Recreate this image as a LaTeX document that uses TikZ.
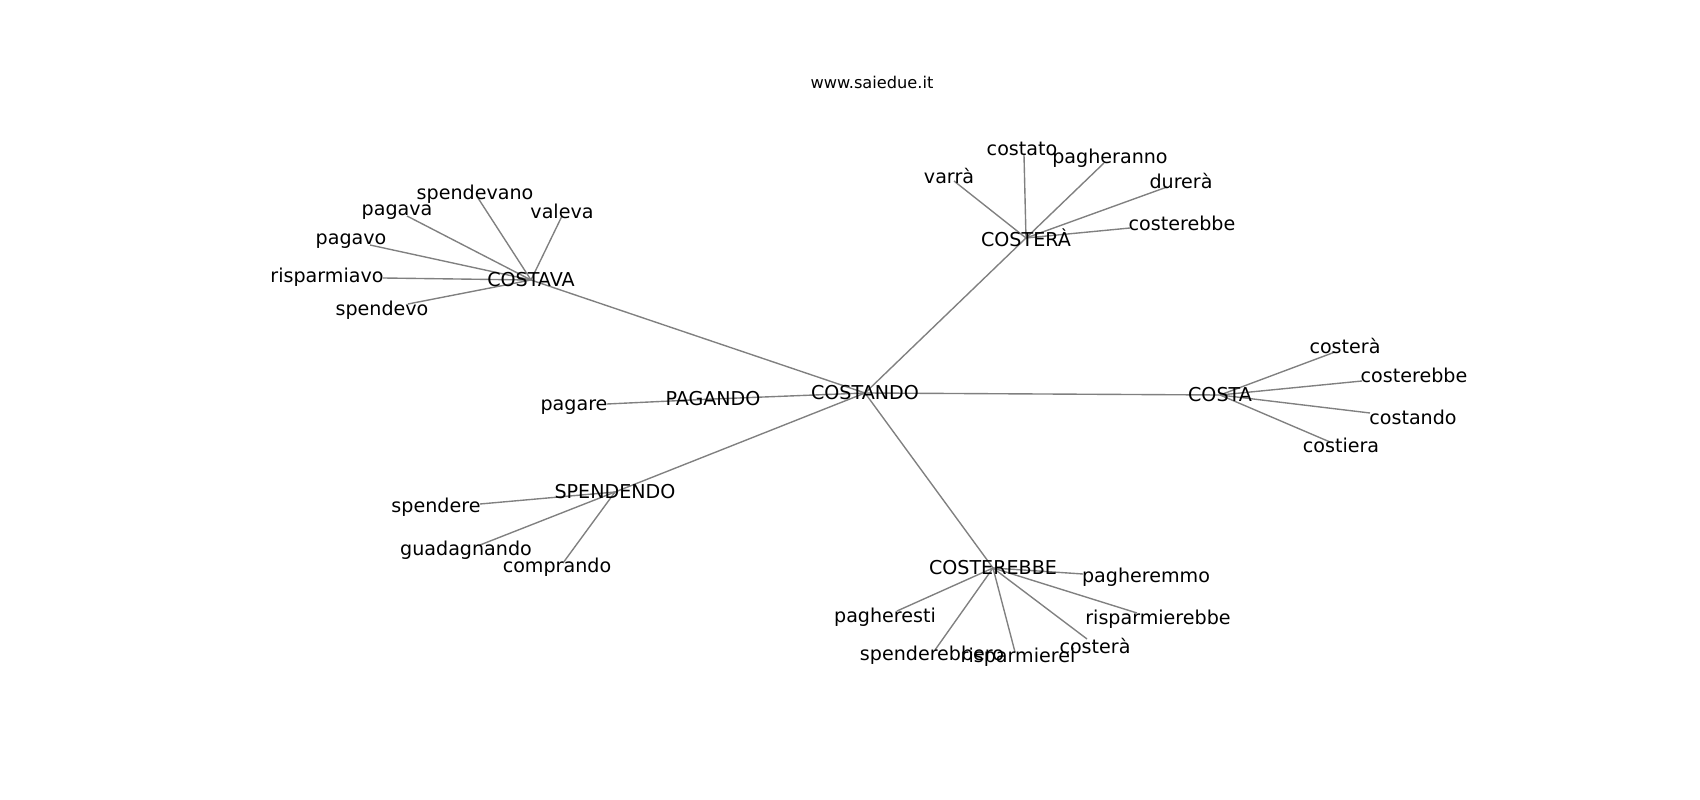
\documentclass[tikz,border=0pt]{standalone}
\usepackage{fontspec}
\setmainfont{DejaVu Sans}
\usetikzlibrary{backgrounds}
\begin{document}
\begin{tikzpicture}[x=0.01in,y=-0.01in,
   word/.style={inner sep=0pt,font=\fontsize{13.8}{16}\selectfont},
   site/.style={inner sep=0pt,font=\fontsize{11.7}{14}\selectfont},
   link/.style={draw=black!50,line width=1pt}]
   \useasboundingbox (0,0) rectangle (1700,800);
   \node[site] (title) at (872,82) {www.saiedue.it};

   \node[word] (costando) at (865,393) {COSTANDO};
   \node[word] (costava) at (531,280) {COSTAVA};
   \node[word] (costera) at (1026,238) {COSTERÀ};
   \node[word] (costa) at (1220,395) {COSTA};
   \node[word] (pagando) at (713,399) {PAGANDO};
   \node[word] (spendendo) at (615,492) {SPENDENDO};
   \node[word] (costerebbe) at (993,568) {COSTEREBBE};

   \node[word] (spendevano) at (475,194) {spendevano};
   \node[word] (pagava) at (397,212) {pagava};
   \node[word] (valeva) at (562,211) {valeva};
   \node[word] (pagavo) at (351,241) {pagavo};
   \node[word] (risparmiavo) at (327,277) {risparmiavo};
   \node[word] (spendevo) at (382,310) {spendevo};
   \coordinate (spendevano') at (478,198);
   \coordinate (pagava') at (407,216);
   \coordinate (valeva') at (562,216);
   \coordinate (pagavo') at (370,245);
   \coordinate (risparmiavo') at (383,278);
   \coordinate (spendevo') at (408,304);

   \node[word] (varra) at (949,176) {varrà};
   \node[word] (costato) at (1022,149) {costato};
   \node[word] (pagheranno) at (1110,158) {pagheranno};
   \node[word] (durera) at (1181,181) {durerà};
   \node[word] (costerebbeA) at (1182,223) {costerebbe};
   \coordinate (varra') at (954,181);
   \coordinate (costato') at (1024,155);
   \coordinate (pagheranno') at (1104,163);
   \coordinate (durera') at (1167,187);
   \coordinate (costerebbeA') at (1130,228);

   \node[word] (costeraA) at (1345,346) {costerà};
   \node[word] (costerebbeB) at (1414,375) {costerebbe};
   \node[word] (costandoB) at (1413,417) {costando};
   \node[word] (costiera) at (1341,445) {costiera};
   \coordinate (costeraA') at (1335,352);
   \coordinate (costerebbeB') at (1362,381);
   \coordinate (costandoB') at (1370,413);
   \coordinate (costiera') at (1330,442);

   \node[word] (pagare) at (574,407) {pagare};
   \coordinate (pagare') at (607,404);

   \node[word] (spendere) at (436,507) {spendere};
   \node[word] (guadagnando) at (466,550) {guadagnando};
   \node[word] (comprando) at (557,567) {comprando};
   \coordinate (spendere') at (480,504);
   \coordinate (guadagnando') at (480,545);
   \coordinate (comprando') at (563,563);

   \node[word] (pagheremmo) at (1146,577) {pagheremmo};
   \node[word] (pagheresti) at (885,617) {pagheresti};
   \node[word] (risparmierebbe) at (1158,619) {risparmierebbe};
   \node[word] (spenderebbero) at (932,655) {spenderebbero};
   \node[word] (risparmierei) at (1018,657) {risparmierei};
   \node[word] (costeraB) at (1095,646) {costerà};
   \coordinate (pagheremmo') at (1083,574);
   \coordinate (pagheresti') at (897,611);
   \coordinate (risparmierebbe') at (1137,613);
   \coordinate (spenderebbero') at (935,650);
   \coordinate (risparmierei') at (1015,652);
   \coordinate (costeraB') at (1087,639);

   \begin{scope}[on background layer]
   \foreach \w in {costava,costera,costa,pagando,spendendo,costerebbe}
      \draw[link] (costando.center) -- (\w.center);
   \foreach \w in {spendevano,pagava,valeva,pagavo,risparmiavo,spendevo}
      \draw[link] (costava.center) -- (\w');
   \foreach \w in {varra,costato,pagheranno,durera,costerebbeA}
      \draw[link] (costera.center) -- (\w');
   \foreach \w in {costeraA,costerebbeB,costandoB,costiera}
      \draw[link] (costa.center) -- (\w');
   \draw[link] (pagando.center) -- (pagare');
   \foreach \w in {spendere,guadagnando,comprando}
      \draw[link] (spendendo.center) -- (\w');
   \foreach \w in {pagheremmo,pagheresti,risparmierebbe,spenderebbero,risparmierei,costeraB}
      \draw[link] (costerebbe.center) -- (\w');
   \end{scope}
 \end{tikzpicture}
\end{document}
